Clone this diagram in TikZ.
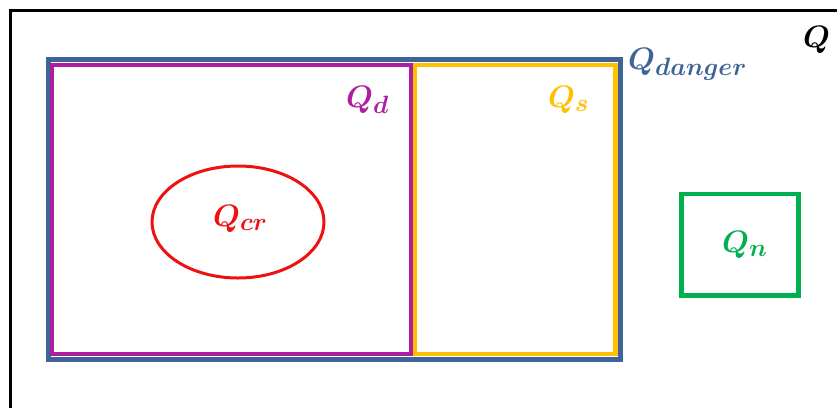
\RequirePackage{fix-cm}
\documentclass[tikz,border=0pt]{standalone}
\usetikzlibrary{shapes.geometric}
\DeclareMathSizes{31}{31}{25}{19}
\definecolor{dangerblue}{HTML}{3E6497}
\definecolor{dmag}{HTML}{AE1FA0}
\definecolor{syell}{HTML}{FFC000}
\definecolor{crred}{HTML}{EE1111}
\definecolor{ngreen}{HTML}{00B050}
\tikzset{
  lbl/.style={inner sep=0pt, anchor=base west, font=\fontsize{31}{37}\selectfont\boldmath},
}
\begin{document}
\begin{tikzpicture}[x=1pt,y=-1pt]
\useasboundingbox (0,0) rectangle (837,408);
\fill[white] (0,0) rectangle (837,408);
% universe Q
\draw[line width=3pt] (837,10) coordinate (qtr) -- (10,10) coordinate (qtl) -- (10,408) coordinate (qbl);
\node[lbl] (qlab) at (803,47) {$Q$};
% Q_danger
\draw[dangerblue, line width=5pt] (48.5,59.5) rectangle (620.5,359.5);
\node[lbl, text=dangerblue] (qdanger) at (628,69) {$Q_{danger}$};
% Q_d
\draw[dmag, line width=4pt] (52,65) rectangle (410.5,354);
\node[lbl, text=dmag] (qd) at (346,107) {$Q_{d}$};
% Q_s
\draw[syell, line width=4.5pt] (415,65) rectangle (615.5,354);
\node[lbl, text=syell] (qs) at (548,107) {$Q_{s}$};
% Q_cr
\node[draw=crred, line width=3pt, ellipse, minimum width=172pt, minimum height=112pt, inner sep=0pt] (cr) at (238,222) {};
\node[lbl, text=crred] (qcr) at (213,226) {$Q_{cr}$};
% Q_n
\draw[ngreen, line width=4.5pt] (681.5,194) rectangle (798.5,295.5);
\node[lbl, text=ngreen] (qn) at (722,252) {$Q_{n}$};
\end{tikzpicture}
\end{document}
